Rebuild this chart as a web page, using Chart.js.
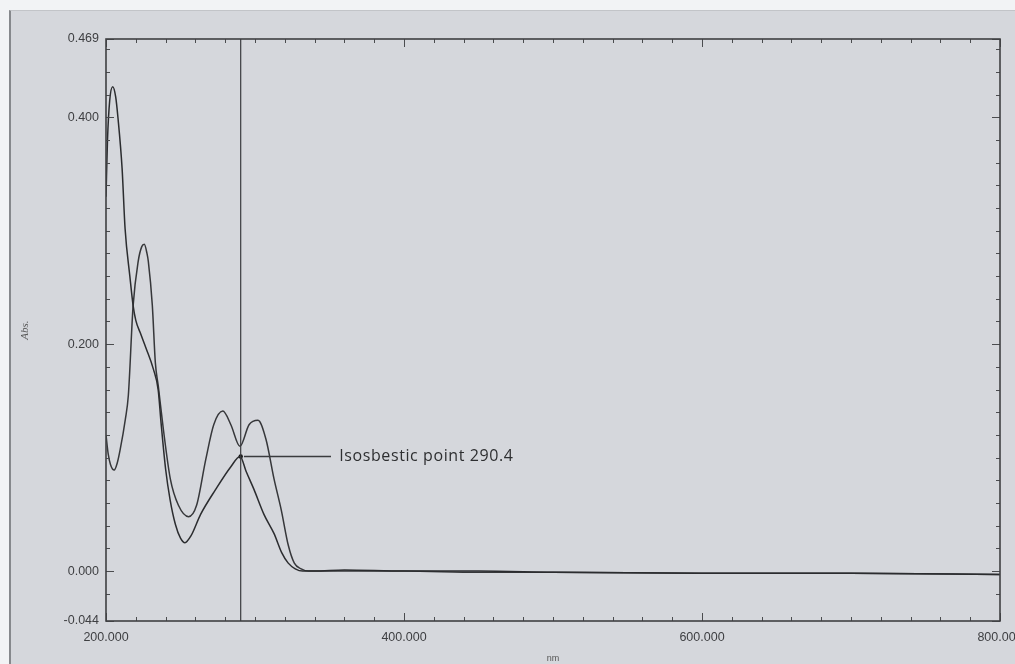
<!DOCTYPE html>
<html><head><meta charset="utf-8">
<script src="https://cdn.jsdelivr.net/npm/chart.js@4"></script>
<style>
html,body{margin:0;padding:0;overflow:hidden;width:1015px;height:664px;background:#f2f3f5;}
#paper{position:absolute;left:9px;top:10px;width:1006px;height:654px;background:#d5d7dc;border-left:2px solid #86888c;border-top:1px solid #c2c4c8;}
#wrap{position:absolute;left:0;top:0;width:1040px;height:664px;}
</style></head><body>
<div id="paper"></div>
<div id="wrap"><canvas id="c" width="1040" height="664"></canvas></div>
<script>
// Spectrum 1 (tall peak near 205 nm)
const wlA  = [200, 201, 202.5, 204.5, 206.5, 208, 210.8, 212.8, 216, 218.2, 220, 223, 227, 231.8, 235, 237, 240, 243, 246.6, 250, 253, 257, 263.5, 273.6, 283.8, 290, 294, 299.3, 306, 312.8, 318, 322.3, 327, 332, 340, 360, 400, 450, 500, 600, 700, 800];
const absA = [0.33, 0.38, 0.415, 0.427, 0.418, 0.40, 0.355, 0.302, 0.26, 0.234, 0.221, 0.21, 0.196, 0.178, 0.160, 0.13, 0.09, 0.063, 0.041, 0.029, 0.025, 0.031, 0.050, 0.072, 0.092, 0.101, 0.088, 0.072, 0.050, 0.033, 0.016, 0.007, 0.002, 0.000, 0.000, 0.001, 0.000, 0.000, -0.001, -0.002, -0.002, -0.003];
// Spectrum 2 (peak near 226 nm, double band 279 / 302 nm)
const wlB  = [200, 201.5, 203, 205.5, 207.5, 209.5, 213, 215, 218.2, 221.6, 224, 225.7, 227.5, 228.4, 231.1, 233.1, 235.1, 238.5, 243.2, 248.6, 255.4, 260.8, 266.9, 272.3, 278.4, 283.8, 289.9, 296, 302, 307.4, 312.8, 317.6, 322.3, 326.4, 331, 336, 360, 400, 450, 500, 600, 700, 800];
const absB = [0.12, 0.103, 0.094, 0.089, 0.095, 0.107, 0.134, 0.155, 0.234, 0.273, 0.286, 0.288, 0.28, 0.273, 0.234, 0.184, 0.163, 0.125, 0.081, 0.058, 0.048, 0.058, 0.098, 0.129, 0.141, 0.129, 0.110, 0.129, 0.133, 0.116, 0.081, 0.054, 0.023, 0.007, 0.002, 0.000, 0.000, 0.000, -0.001, -0.001, -0.002, -0.002, -0.003];
// Axis ticks
const xLabelTicks = [200, 400, 600, 800];
const xMinorStep = 20;
const yLabelTicks = [-0.044, 0.000, 0.200, 0.400, 0.469];
const yMinorStep = 0.02;
// Isosbestic point
const isoWl = 290.4;
const isoAbs = 0.101;
const isoLabel = 'Isosbestic point 290.4';
const isoLeaderFrom = 292.6, isoLeaderTo = 351, isoTextAt = 356.5;

function buildTicks(min, max, step, labelled){
  const vals = new Set(labelled.map(v=>Math.round(v*1000)/1000));
  const start = Math.ceil(min/step)*step;
  for(let v=start; v<=max+1e-9; v+=step){ vals.add(Math.round(v*1000)/1000); }
  return [...vals].filter(v=>v>=min-1e-9 && v<=max+1e-9).sort((a,b)=>a-b);
}
const xTicks = buildTicks(200, 800, xMinorStep, xLabelTicks);
const yTicks = buildTicks(-0.044, 0.469, yMinorStep, yLabelTicks).filter(v=>!(Math.abs(v+0.04)<1e-6));
const isLab = (arr,v)=>arr.some(t=>Math.abs(t-v)<1e-6);

const decor = {
  id:'decor',
  afterDatasetsDraw(chart){
    const {ctx, chartArea:a, scales:{x,y}} = chart;
    ctx.save();
    ctx.strokeStyle='#4b4c4f'; ctx.lineWidth=1;
    const L=(x1,y1,x2,y2)=>{ctx.beginPath();ctx.moveTo(x1,y1);ctx.lineTo(x2,y2);ctx.stroke();};
    x.ticks.forEach(t=>{
      const px=Math.round(x.getPixelForValue(t.value))+0.5;
      const len=isLab(xLabelTicks,t.value)?8:4;
      L(px,a.bottom,px,a.bottom-len); L(px,a.top,px,a.top+len);
    });
    y.ticks.forEach(t=>{
      const py=Math.round(y.getPixelForValue(t.value))+0.5;
      const len=isLab(yLabelTicks,t.value)?8:4;
      L(a.left,py,a.left+len,py); L(a.right,py,a.right-len,py);
    });
    // frame
    ctx.lineWidth=1.6; ctx.strokeStyle='#3f4043';
    ctx.strokeRect(a.left,a.top,a.right-a.left,a.bottom-a.top);
    // vertical cursor at isosbestic wavelength
    ctx.lineWidth=1.2; ctx.strokeStyle='#3a3b3e';
    const vx=x.getPixelForValue(isoWl);
    L(vx,a.top,vx,a.bottom);
    // leader line + label
    const ly=y.getPixelForValue(isoAbs);
    ctx.lineWidth=1.3;
    L(x.getPixelForValue(isoLeaderFrom),ly,x.getPixelForValue(isoLeaderTo),ly);
    ctx.fillStyle='#2e2f31';
    ctx.font='16px "Open Sans", sans-serif';
    try{ ctx.letterSpacing='0.6px'; }catch(e){}
    ctx.textBaseline='middle'; ctx.textAlign='left';
    ctx.fillText(isoLabel,x.getPixelForValue(isoTextAt),ly);
    ctx.restore();
  }
};

const tickFont = {family:'"Liberation Sans", Arial, sans-serif', size:12.5};
new Chart(document.getElementById('c'),{
  type:'line',
  data:{datasets:[
    {data:wlA.map((v,i)=>({x:v,y:absA[i]})), borderColor:'#2b2c2f', borderWidth:1.5, pointRadius:0, cubicInterpolationMode:'monotone', fill:false},
    {data:wlB.map((v,i)=>({x:v,y:absB[i]})), borderColor:'#36373a', borderWidth:1.5, pointRadius:0, cubicInterpolationMode:'monotone', fill:false},
    {data:[{x:isoWl,y:isoAbs}], showLine:false, pointRadius:2.2, pointBackgroundColor:'#111', pointBorderWidth:0}
  ]},
  options:{
    responsive:false, animation:false, devicePixelRatio:1,
    layout:{padding:{left:0,top:39,right:40,bottom:0}},
    plugins:{legend:{display:false},tooltip:{enabled:false}},
    scales:{
      x:{type:'linear',min:200,max:800,
        afterBuildTicks:s=>{s.ticks=xTicks.map(v=>({value:v}));},
        afterFit:s=>{s.height=43;},
        grid:{display:false,drawTicks:false},
        border:{display:false},
        ticks:{autoSkip:false,maxRotation:0,padding:9,color:'#3e3f42',font:tickFont,
          callback:v=>isLab(xLabelTicks,v)?Number(v).toFixed(3):''},
        title:{display:true,text:'nm',color:'#555',font:{family:'"Liberation Sans", sans-serif',size:9},padding:{top:0,bottom:0}}
      },
      y:{type:'linear',min:-0.044,max:0.469,
        afterBuildTicks:s=>{s.ticks=yTicks.map(v=>({value:v}));},
        afterFit:s=>{s.width=106;},
        grid:{display:false,drawTicks:false},
        border:{display:false},
        ticks:{autoSkip:false,padding:7,color:'#3e3f42',font:tickFont,
          callback:v=>isLab(yLabelTicks,v)?Number(v).toFixed(3):''},
        title:{display:true,text:'Abs.',color:'#555',font:{family:'"Liberation Serif", serif',size:11,style:'italic'},padding:{top:19,bottom:0}}
      }
    }
  },
  plugins:[decor]
});
</script>
</body></html>
